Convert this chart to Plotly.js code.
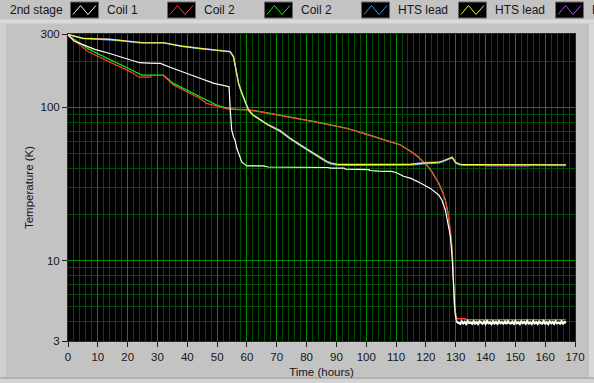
<!DOCTYPE html>
<html>
<head>
<meta charset="utf-8">
<script src="https://cdn.plot.ly/plotly-3.0.1.min.js"></script>
<style>html,body{margin:0;padding:0;background:#c3c3c3;overflow:hidden}</style>
</head>
<body>
<div id="chart" style="width:594px;height:383px"></div>
<script>
// ---------- data ----------
const seriesNames = ['2nd stage', 'Coil 1', 'Coil 2', 'Coil 2', 'HTS lead', 'HTS lead', 'HTS lead'];
const seriesColors = ['#ffffff', '#ff3c3c', '#00ff00', '#3399ff', '#e6ff3c', '#b84cff', '#ff8c00'];

const xTickVals = [0, 10, 20, 30, 40, 50, 60, 70, 80, 90, 100, 110, 120, 130, 140, 150, 160, 170];
const xMinorVals = [2,4,6,8,12,14,16,18,22,24,26,28,32,34,36,38,42,44,46,48,52,54,56,58,62,64,66,68,72,74,76,78,82,84,86,88,92,94,96,98,102,104,106,108,112,114,116,118,122,124,126,128,132,134,136,138,142,144,146,148,152,154,156,158,162,164,166,168];
const yTickVals = [3, 10, 100, 300];
const yTickText = ['3', '10', '100', '300'];
const yMinorVals = [4, 5, 6, 7, 8, 9, 20, 30, 40, 50, 60, 70, 80, 90, 200];

// 2nd stage (white)
const t2nd = [0,2,5,9,14,19,24,27,31,34,38,41,44,49,54,54.4,54.9,55.5,56,56.6,57.2,58.3,60,65.5,67,76.5,77,87,88.2,92.6,93,97,97.1,101,101.1,104,104.1,108.5,110,112.5,115,118,121.5,124.3,125.4,126.5,127.5,128.2,128.8,129.3,129.8,130.3];
const v2nd = [296,270,256,238,224,208,195,194,193,183,172,163,155,143,136,96,71,64,61,54,50,43.9,41.5,41.5,40.8,40.8,40.5,40.5,40.1,40.1,39.5,39.5,39.2,39.2,38.7,38.7,38.4,38.2,37.6,35.5,34.4,32.2,29.6,26.8,24.8,21.5,17,14.5,10.5,6.5,4.5,4.0];
const t2ndTail = [130.3,131,131.5,132,132.5,133,133.5,134,134.5,135,135.5,136,136.5,137,137.5,138,138.5,139,139.5,140,140.5,141,141.5,142,142.5,143,143.5,144,144.5,145,145.5,146,146.5,147,147.5,148,148.5,149,149.5,150,150.5,151,151.5,152,152.5,153,153.5,154,154.5,155,155.5,156,156.5,157,157.5,158,158.5,159,159.5,160,160.5,161,161.5,162,162.5,163,163.5,164,164.5,165,165.5,166,166.5,167];
const v2ndTail = [4.0,3.95,3.88,4.03,3.91,3.99,3.87,4.04,3.92,3.97,3.88,
  4.02,3.9,3.98,3.87,4.03,3.93,3.89,4.01,3.88,4.04,
  3.91,3.97,3.87,4.02,3.9,3.99,3.88,4.03,3.92,3.98,
  3.89,4.01,3.87,4.04,3.93,3.9,4.0,3.88,4.03,3.91,
  3.97,3.87,4.02,3.92,3.99,3.88,4.04,3.9,3.96,3.87,
  4.03,3.91,3.98,3.88,4.01,3.93,3.89,4.04,3.9,3.97,
  3.87,4.02,3.92,3.99,3.88,4.03,3.91,3.96,3.89,4.02,
  3.9,3.98,3.94];

// Coil 1 (red)
const tCoil1 = [0,2,4,6.8,10.7,14,17.4,21,23.9,27.5,28,32,35.3,39.8,44.3,46.5,50,53.3,57,60,65,71.1,76,82.3,88,93.5,99,104.7,108,111.4,114,115.9,117.5,119.2,120.7,122,123.2,124.3,125.5,126.5,127.4,128.2,128.7,129,129.3,129.5,129.9,130.2,130.6,133,133.5,166.8];
const vCoil1 = [295,272,254,230,212,197,184,170,157,157,161,161,139.5,126,114,106,101,97.6,96.8,96.2,93,88.8,85,80.4,76.5,72.7,67.5,62.7,59.5,56.8,53,50,47.2,44,41,37.9,35,31.9,28.2,24.8,20.5,15.9,12.5,10,7,5.2,4.6,4.3,4.2,4.2,4.14,4.14];

// Coil 2 (green)
const tCoil2 = [0,2,4,6.8,10.7,14,17.4,21,24.7,32,35.3,39.8,44.3,50,54.4,57,60,65,71.1,76,82.3,88,93.5,99,104.7,108,111.4,114,115.9,117.5,119.2,120.7,122,123.2,124.3,125.5,126.5,127.4,128.2,128.7,129,129.3,129.5,129.9,130.2,130.6,133,133.5,166.8];
const vCoil2 = [296,278,262,240,220,204,190,176,162,162,143,130,117,103,97.6,96.6,96.4,93.4,89,85.3,80.8,76.8,73,67.8,63,59.8,57,53.2,50.2,47.4,44.2,41.2,38.1,35.2,32.1,28.4,25,20.7,16,12.6,10.1,7.1,5.3,4.6,4.3,4.2,4.2,4.14,4.14];

// Coil 2 (blue) and HTS lead (yellow) share the same time samples
const tHTS = [0,2,5,9,14,18,22,25,32,35,38,44,50,54.4,55.5,56.3,57.2,58,58.8,59.6,60.5,62,64.4,67,71.1,74.5,78,81,84,86.8,88.5,90.2,95,100,105,110,115,119.3,122,124.3,126,127,128,128.8,129.4,129.9,130.6,131.5,133,140,150,160,167];
const vBlue = [297,289,280,278,275,270,264,262,262,254,249,241,235,229,212,174,142,127,116,104,95.5,88.5,82,76.5,69.5,62,56,51.5,47,43.6,42.4,41.9,41.8,41.8,41.8,41.8,42,42.8,43,43.3,44.3,45,46,46.8,45,43.3,42.5,42,41.8,41.7,41.7,41.7,41.7];
const vHTS = [298,290,281,279,277,272,266,263,263,255,250,242,236,230,213,175,143,128,117,105,96,89,82.5,77,70,62.5,56.5,52,47.5,44.1,43,42.5,42.3,42.3,42.3,42.3,42.5,43.3,43.5,43.8,44.8,45.5,46.5,47.2,45.5,43.8,43,42.5,42.3,42.2,42.2,42.2,42.2];

// HTS lead (purple)
const tHTS2 = [0,2,5,9,14,18,22,25,32,35,38,44,50,54.4,55.5,56.3,57.2,58,58.8,59.6,60.5,62,64.4,67,71.1,74.5,78,81,84,86.8,88.5,90.2,95,100,105,110,115,119.3,122,124.3,126,127,128,128.8,129.4,129.9,130.6,131.5,133,139.5,140,154.7,155.2,167];
const vHTS2 = [298,291,282,280,278,273,267,264,264,256,251,243,237,231,214,176,144,129,118,106,97,89.5,83,77.5,71,63,57,52.5,48,44.6,43.2,42.8,42.6,42.7,42.8,42.8,42.7,43.6,43.8,44,45,45.8,46.8,47.4,45.7,44,43.2,42.6,42.2,42.2,41.5,41.5,42.2,42.2];

// ---------- figure ----------
const W = 594, H = 383;
const PL = 68, PR = 575, PT = 34, PB = 341;
const px = x => (x - PL) / (PR - PL);
const py = y => (PB - y) / (PB - PT);
const X_RANGE = [0, 170];
const Y_RANGE = [Math.log10(3), Math.log10(300)];

function line(x, y, color, name, width) {
  return {type: 'scatter', mode: 'lines', x: x, y: y, name: name,
          line: {color: color, width: width || 1.2}, hoverinfo: 'skip', showlegend: false};
}

const traces = [
  line(tHTS, vBlue, seriesColors[3], seriesNames[3]),
  line(tHTS2, vHTS2, seriesColors[5], seriesNames[5]),
  line(tCoil2, vCoil2, seriesColors[2], seriesNames[2]),
  line(tCoil1, vCoil1, seriesColors[1], seriesNames[1]),
  line(tHTS, vHTS, seriesColors[4], seriesNames[4]),
  line(t2nd, v2nd, seriesColors[0], seriesNames[0]),
  line(t2ndTail, v2ndTail, seriesColors[0], seriesNames[0], 2.2)
];

const txtColor = '#151520';
const fontFam = 'Liberation Sans, Arial, sans-serif';
const MINOR_GRID = '#004c00';
const MAJOR_GRID = '#009000';

const shapes = [];
const annotations = [];

// grid lines from the tick arrays, snapped to pixel centres so they stay crisp
function xGridLine(v, color) {
  const pix = Math.floor(PL + (v - X_RANGE[0]) / (X_RANGE[1] - X_RANGE[0]) * (PR - PL)) + 0.5;
  if (pix <= PL + 1 || pix >= PR - 1) return;
  shapes.push({type: 'line', layer: 'below', xref: 'paper', yref: 'paper', x0: px(pix), x1: px(pix), y0: 0, y1: 1,
    line: {color: color, width: 1}});
}
function yGridLine(v, color) {
  const frac = (Math.log10(v) - Y_RANGE[0]) / (Y_RANGE[1] - Y_RANGE[0]);
  const pix = Math.floor(PB - frac * (PB - PT)) + 0.5;
  if (pix <= PT + 1 || pix >= PB - 1) return;
  shapes.push({type: 'line', layer: 'below', xref: 'paper', yref: 'paper', x0: 0, x1: 1, y0: py(pix), y1: py(pix),
    line: {color: color, width: 1}});
}
xMinorVals.forEach(v => xGridLine(v, MINOR_GRID));
yMinorVals.forEach(v => yGridLine(v, MINOR_GRID));
xTickVals.forEach(v => xGridLine(v, MAJOR_GRID));
yTickVals.forEach(v => yGridLine(v, MAJOR_GRID));

// frame decorations
shapes.push({type: 'rect', xref: 'paper', yref: 'paper', x0: px(0), x1: px(W), y0: py(23.5), y1: py(19.5), fillcolor: '#d9d9d9', line: {width: 0}});
shapes.push({type: 'rect', xref: 'paper', yref: 'paper', x0: px(0), x1: px(6), y0: py(378), y1: py(24), fillcolor: '#d0d0d0', line: {width: 0}});
shapes.push({type: 'rect', xref: 'paper', yref: 'paper', x0: px(589), x1: px(W), y0: py(378), y1: py(24), fillcolor: '#d8d8d8', line: {width: 0}});
shapes.push({type: 'rect', xref: 'paper', yref: 'paper', x0: px(0), x1: px(W), y0: py(H), y1: py(378.5), fillcolor: '#d4d4d4', line: {width: 0}});
shapes.push({type: 'line', xref: 'paper', yref: 'paper', x0: px(0), x1: px(W), y0: py(378), y1: py(378), line: {color: '#9a9a9a', width: 1}});

// legend drawn LabVIEW style: name, then icon box
seriesNames.forEach((nm, i) => {
  const tx = 8 + 97 * i;
  const bx = 70.5 + 97 * i;
  annotations.push({xref: 'paper', yref: 'paper', x: px(tx), y: py(10.5), xanchor: 'left', yanchor: 'middle',
    text: nm, showarrow: false, font: {family: fontFam, size: 12, color: txtColor}});
  if (bx < W) {
    shapes.push({type: 'rect', xref: 'paper', yref: 'paper', x0: px(bx), x1: px(bx + 28), y0: py(18), y1: py(2),
      fillcolor: '#000000', line: {color: '#6a6a6a', width: 1}});
    const pts = [[2.5, 12.5], [10, 3.5], [17.5, 12.5], [25.5, 3.5]];
    const path = pts.map((p, k) => (k ? 'L ' : 'M ') + px(bx + p[0]) + ' ' + py(2 + p[1])).join(' ');
    shapes.push({type: 'path', xref: 'paper', yref: 'paper', path: path, line: {color: seriesColors[i], width: 1}});
  }
});

const layout = {
  width: W, height: H,
  paper_bgcolor: '#c3c3c3', plot_bgcolor: '#000000',
  margin: {l: PL, r: W - PR, t: PT, b: H - PB, pad: 0},
  font: {family: fontFam, size: 11.5, color: txtColor},
  showlegend: false,
  xaxis: {
    range: X_RANGE, tickmode: 'array', tickvals: xTickVals,
    ticks: 'outside', ticklen: 5, tickcolor: '#222', tickwidth: 1,
    showgrid: false, zeroline: false, showline: true, linecolor: '#2a2a2a', mirror: true,
    title: {text: 'Time (hours)', standoff: 6, font: {family: fontFam, size: 11.5, color: txtColor}},
    fixedrange: true
  },
  yaxis: {
    type: 'log', range: Y_RANGE,
    tickmode: 'array', tickvals: yTickVals, ticktext: yTickText,
    ticks: 'outside', ticklen: 5, tickcolor: '#222', tickwidth: 1,
    showgrid: false, zeroline: false, showline: true, linecolor: '#2a2a2a', mirror: true,
    title: {text: 'Temperature (K)', standoff: 4, font: {family: fontFam, size: 11.5, color: txtColor}},
    fixedrange: true
  },
  shapes: shapes,
  annotations: annotations
};

Plotly.newPlot('chart', traces, layout, {displayModeBar: false, staticPlot: true});
</script>
</body>
</html>
